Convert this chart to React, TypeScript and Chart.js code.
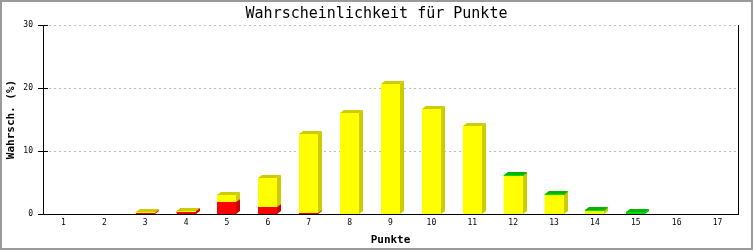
import React, { useEffect, useRef } from "react";
import { Chart, registerables } from "chart.js";

Chart.register(...registerables);

const categories = ["1", "2", "3", "4", "5", "6", "7", "8", "9", "10", "11", "12", "13", "14", "15", "16", "17"];
const redValues = [0, 0, 0.15, 0.45, 1.9, 1.1, 0.15, 0, 0, 0, 0, 0, 0, 0, 0, 0, 0];
const yellowValues = [0, 0, 0.2, 0.1, 1.1, 4.6, 12.6, 16.0, 20.6, 16.7, 14.0, 6.0, 3.0, 0.45, 0, 0, 0];
const greenValues = [0, 0, 0, 0, 0, 0, 0, 0, 0, 0, 0, 0.2, 0.2, 0.2, 0.35, 0, 0];
const yTickValues = [0, 10, 20, 30];
const chartTitle = "Wahrscheinlichkeit für Punkte";
const xAxisTitle = "Punkte";
const yAxisTitle = "Wahrsch. (%)";

const FONT = "'DejaVu Sans Mono', 'Liberation Mono', monospace";
const DEPTH_X = 4;
const DEPTH_Y = 3;

const seriesStyles = [
  { front: "#ff0000", dark: "#cc0000" },
  { front: "#ffff00", dark: "#cccc00" },
  { front: "#00dd00", dark: "#00b400" },
];

const bar3dPlugin = {
  id: "bar3d",
  beforeDraw(chart: any) {
    const ctx = chart.ctx;
    ctx.save();
    ctx.fillStyle = "#ffffff";
    ctx.fillRect(0, 0, chart.width, chart.height);
    ctx.restore();
  },
  afterDatasetsDraw(chart: any) {
    const ctx = chart.ctx;
    const n = chart.data.labels.length;
    ctx.save();
    for (let i = 0; i < n; i++) {
      chart.data.datasets.forEach((ds: any, di: number) => {
        const v = ds.data[i];
        if (!v) return;
        const meta = chart.getDatasetMeta(di);
        const el = meta.data[i];
        if (!el) return;
        const { x, y, base, width } = el.getProps(["x", "y", "base", "width"], true);
        const xl = Math.round(x - width / 2);
        const xr = Math.round(x + width / 2);
        const yt = Math.round(y);
        const yb = Math.round(base);
        const st = seriesStyles[di];
        ctx.fillStyle = st.dark;
        ctx.beginPath();
        ctx.moveTo(xr, yt);
        ctx.lineTo(xr + DEPTH_X, yt - DEPTH_Y);
        ctx.lineTo(xr + DEPTH_X, yb - DEPTH_Y);
        ctx.lineTo(xr, yb);
        ctx.closePath();
        ctx.fill();
        ctx.beginPath();
        ctx.moveTo(xl, yt);
        ctx.lineTo(xl + DEPTH_X, yt - DEPTH_Y);
        ctx.lineTo(xr + DEPTH_X, yt - DEPTH_Y);
        ctx.lineTo(xr, yt);
        ctx.closePath();
        ctx.fill();
        ctx.fillStyle = st.front;
        ctx.fillRect(xl, yt, xr - xl, Math.max(1, yb - yt));
      });
    }
    ctx.restore();
  },
  afterDraw(chart: any) {
    const ctx = chart.ctx;
    const area = chart.chartArea;
    const yScale = chart.scales.y;
    ctx.save();
    // right frame line
    ctx.strokeStyle = "#000000";
    ctx.lineWidth = 1;
    ctx.beginPath();
    ctx.moveTo(Math.round(area.right) + 0.5, area.top);
    ctx.lineTo(Math.round(area.right) + 0.5, area.bottom);
    ctx.stroke();
    // inner tick marks
    yTickValues.forEach((t) => {
      const py = Math.round(yScale.getPixelForValue(t)) + 0.5;
      ctx.beginPath();
      ctx.moveTo(area.left, py);
      ctx.lineTo(area.left + 5, py);
      ctx.stroke();
    });
    // title
    ctx.fillStyle = "#000000";
    ctx.font = "15px " + FONT;
    ctx.textAlign = "center";
    ctx.textBaseline = "middle";
    ctx.fillText(chartTitle, chart.width / 2, 14);
    // outer border
    ctx.strokeStyle = "#9a9a9a";
    ctx.lineWidth = 2;
    ctx.strokeRect(1, 1, chart.width - 2, chart.height - 2);
    ctx.restore();
  },
};

export default function App() {
  const canvasRef = useRef<HTMLCanvasElement | null>(null);

  useEffect(() => {
    if (!canvasRef.current) return;
    const mk = (label: string, data: number[], idx: number) => ({
      label,
      data,
      backgroundColor: seriesStyles[idx].front,
      borderWidth: 0,
      categoryPercentage: 1,
      barPercentage: 0.465,
    });
    const chart = new Chart(canvasRef.current, {
      type: "bar",
      data: {
        labels: categories,
        datasets: [
          mk("rot", redValues, 0),
          mk("gelb", yellowValues, 1),
          mk("grün", greenValues, 2),
        ],
      },
      options: {
        animation: false,
        responsive: false,
        devicePixelRatio: 1,
        layout: { padding: { left: 0, right: 15, top: 25, bottom: 0 } },
        plugins: {
          legend: { display: false },
          tooltip: { enabled: false },
          title: { display: false },
        },
        scales: {
          x: {
            stacked: true,
            grid: { display: false, drawTicks: false },
            border: { display: true, color: "#000000", width: 1 },
            ticks: { color: "#000000", font: { family: FONT, size: 8 }, padding: 4, maxRotation: 0 },
            title: {
              display: true,
              text: xAxisTitle,
              color: "#000000",
              font: { family: FONT, size: 11, weight: "bold" },
              padding: { top: 0, bottom: 3 },
            },
            afterFit: (s: any) => {
              s.height = 36;
            },
          },
          y: {
            stacked: true,
            min: 0,
            max: 30,
            afterBuildTicks: (s: any) => {
              s.ticks = yTickValues.map((v) => ({ value: v }));
            },
            grid: {
              display: true,
              color: (c: any) => (c.tick && c.tick.value === 0 ? "rgba(0,0,0,0)" : "#bdbdbd"),
              lineWidth: 1,
              drawTicks: true,
              tickLength: 5,
              tickColor: "#000000",
            },
            border: { display: true, color: "#000000", width: 1, dash: [2, 3] },
            ticks: { color: "#000000", font: { family: FONT, size: 8 }, padding: 5 },
            title: {
              display: true,
              text: yAxisTitle,
              color: "#000000",
              font: { family: FONT, size: 11, weight: "bold" },
              padding: { top: 5, bottom: 0 },
            },
            afterFit: (s: any) => {
              s.width = 43;
            },
          },
        },
      },
      plugins: [bar3dPlugin],
    } as any);
    return () => chart.destroy();
  }, []);

  return (
    <div style={{ position: "absolute", left: 0, top: 0, width: 753, height: 250 }}>
      <canvas ref={canvasRef} width={753} height={250} style={{ display: "block", width: 753, height: 250 }} />
    </div>
  );
}
